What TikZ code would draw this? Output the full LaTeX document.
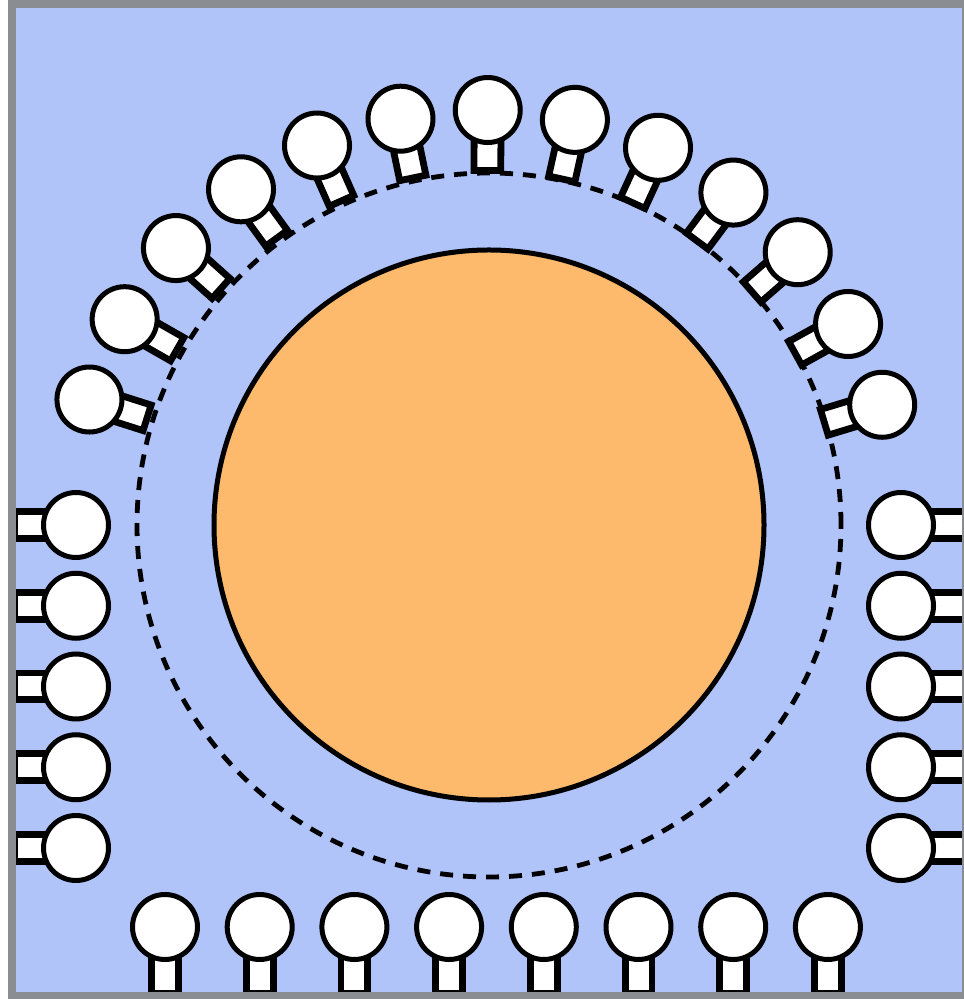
\documentclass[tikz,border=0pt]{standalone}
\usetikzlibrary{positioning}
\definecolor{bgblue}{RGB}{176,196,250}
\definecolor{coreorange}{RGB}{253,185,108}
\definecolor{framegray}{RGB}{138,141,145}

\begin{document}
\begin{tikzpicture}[
  x=0.5pt, y=0.5pt,
  head/.style={circle, draw, fill=white, line width=2.5pt,
               minimum size=32.5pt, inner sep=0pt},
  stem/.style={rectangle, draw, fill=white, line width=3.4pt,
               minimum height=13.4pt, inner sep=0pt},
  orbit/.style={circle, draw, line width=2.4pt, dash pattern=on 6.5pt off 5pt,
                minimum size=352pt, inner sep=0pt},
  core/.style={circle, draw, fill=coreorange, line width=2.5pt,
               minimum size=275pt, inner sep=0pt},
]
  \useasboundingbox (-489,-474) rectangle (474,525);
  \fill[bgblue] (-477,520.5) rectangle (477,-471);

  \node[orbit] (ring) at (0,0) {};
  \node[core] (sun) at (0,0) {};

  % top arc
  \coordinate (arc) at (-4,0);
  \foreach \i in {0,...,12} {
    \pgfmathsetmacro\ang{162.4-12.13*\i}
    \node[stem, rotate=\ang, minimum width=23.5pt] (topstem\i) at ([shift={(\ang:378)}]arc) {};
    \node[head] (top\i) at ([shift={(\ang:415)}]arc) {};
  }

  % left and right columns
  \foreach \i in {0,...,4} {
    \node[stem, minimum width=24.5pt] (leftstem\i) at (-449.5,-80.75*\i) {};
    \node[head] (left\i) at (-413,-80.75*\i) {};
    \node[stem, minimum width=30pt] (rightstem\i) at (450,-80.75*\i) {};
    \node[head] (right\i) at (412,-80.75*\i) {};
  }

  % bottom row
  \foreach \i in {0,...,7} {
    \node[stem, rotate=90, minimum width=29pt] (botstem\i) at (-324+94.7*\i,-439) {};
    \node[head] (bot\i) at (-324+94.7*\i,-402) {};
  }

  \draw[framegray, line width=4pt] (-477,520.5) rectangle (477,-471);
\end{tikzpicture}
\end{document}
